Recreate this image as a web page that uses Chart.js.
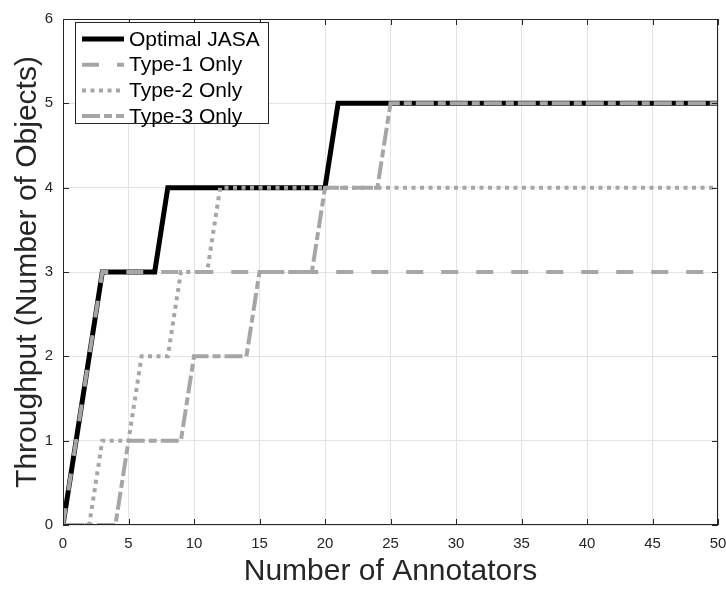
<!DOCTYPE html>
<html lang="en">
<head>
<meta charset="UTF-8">
<title>Throughput</title>
<script src="https://cdn.jsdelivr.net/npm/chart.js"></script>
<style>
    body { margin: 0; background: #fff; }
</style>
</head>
<body>
<canvas id="throughputChart" width="726" height="591"></canvas>

<script>
    // data
    var seriesNames = ['Optimal JASA', 'Type-1 Only', 'Type-2 Only', 'Type-3 Only'];
    var jasaX  = [0, 3, 7, 8, 20, 21, 50];
    var jasaY  = [0, 3, 3, 4, 4, 5, 5];
    var type1X = [0, 3, 50];
    var type1Y = [0, 3, 3];
    var type2X = [0, 2, 3, 5, 6, 8, 9, 11, 12, 50];
    var type2Y = [0, 0, 1, 1, 2, 2, 3, 3, 4, 4];
    var type3X = [0, 4, 5, 9, 10, 14, 15, 19, 20, 24, 25, 50];
    var type3Y = [0, 0, 1, 1, 2, 2, 3, 3, 4, 4, 5, 5];
    var xTicks = [0, 5, 10, 15, 20, 25, 30, 35, 40, 45, 50];
    var yTicks = [0, 1, 2, 3, 4, 5, 6];

    var FONT = '"Liberation Sans", Arial, Helvetica, sans-serif';
    var AXIS = '#262626';
    var GRAY = '#a6a6a6';

    function toPoints(xs, ys) {
        return xs.map(function(x, i) { return {x: x, y: ys[i]}; });
    }

    // box round the plot plus inward tick marks, like the original
    var framePlugin = {
        id: 'frame',
        afterDatasetsDraw: function(chart) {
            var ctx = chart.ctx, a = chart.chartArea;
            var xs = chart.scales.x, ys = chart.scales.y;
            ctx.save();
            ctx.strokeStyle = AXIS;
            ctx.lineWidth = 1;
            ctx.beginPath();
            ctx.moveTo(a.left, a.top + 0.5); ctx.lineTo(a.right, a.top + 0.5);
            ctx.moveTo(a.right - 0.5, a.top); ctx.lineTo(a.right - 0.5, a.bottom);
            ctx.moveTo(a.left + 0.5, a.top); ctx.lineTo(a.left + 0.5, a.bottom);
            ctx.moveTo(a.left, a.bottom - 0.5); ctx.lineTo(a.right, a.bottom - 0.5);
            xTicks.forEach(function(v) {
                var px = Math.round(xs.getPixelForValue(v)) + 0.5;
                ctx.moveTo(px, a.bottom); ctx.lineTo(px, a.bottom - 6);
                ctx.moveTo(px, a.top); ctx.lineTo(px, a.top + 6);
            });
            yTicks.forEach(function(v) {
                var py = Math.round(ys.getPixelForValue(v)) + 0.5;
                ctx.moveTo(a.left, py); ctx.lineTo(a.left + 6, py);
                ctx.moveTo(a.right, py); ctx.lineTo(a.right - 6, py);
            });
            ctx.stroke();
            ctx.restore();
        }
    };

    // legend box inside the plot, top left
    var boxLegend = {
        id: 'boxLegend',
        afterDraw: function(chart) {
            var ctx = chart.ctx;
            var bx = 75, by = 22, bw = 193, bh = 101;
            ctx.save();
            ctx.fillStyle = '#fff';
            ctx.fillRect(bx, by, bw, bh);
            ctx.strokeStyle = AXIS;
            ctx.lineWidth = 1;
            ctx.strokeRect(bx + 0.5, by + 0.5, bw, bh);
            ctx.font = '21px ' + FONT;
            ctx.textBaseline = 'middle';
            chart.data.datasets.forEach(function(ds, i) {
                var y = by + 17 + i * 25.7;
                ctx.beginPath();
                ctx.strokeStyle = ds.borderColor;
                ctx.lineWidth = ds.borderWidth;
                ctx.setLineDash(ds.borderDash || []);
                ctx.moveTo(82, y);
                ctx.lineTo(124, y);
                ctx.stroke();
                ctx.setLineDash([]);
                ctx.fillStyle = '#000';
                ctx.fillText(ds.label, 129, y + 1);
            });
            ctx.restore();
        }
    };

    var ctx = document.getElementById('throughputChart').getContext('2d');
    new Chart(ctx, {
        type: 'line',
        data: {
            datasets: [{
                label: seriesNames[0],
                data: toPoints(jasaX, jasaY),
                borderColor: '#000',
                borderWidth: 5,
                order: 2
            }, {
                label: seriesNames[1],
                data: toPoints(type1X, type1Y),
                borderColor: GRAY,
                borderWidth: 4,
                borderDash: [17, 18],
                order: 1
            }, {
                label: seriesNames[2],
                data: toPoints(type2X, type2Y),
                borderColor: GRAY,
                borderWidth: 4,
                borderDash: [4, 4.5],
                order: 1
            }, {
                label: seriesNames[3],
                data: toPoints(type3X, type3Y),
                borderColor: GRAY,
                borderWidth: 4,
                borderDash: [18, 4, 8, 4],
                order: 1
            }]
        },
        options: {
            responsive: false,
            animation: false,
            elements: {
                point: { radius: 0 },
                line: { tension: 0, fill: false }
            },
            layout: { padding: { top: 11, right: 8, left: 0, bottom: 0 } },
            plugins: {
                legend: { display: false },
                tooltip: { enabled: false }
            },
            scales: {
                x: {
                    type: 'linear',
                    min: 0,
                    max: 50,
                    afterFit: function(scale) {
                        scale.height = 66;
                        scale.paddingLeft = 0;
                        scale.paddingRight = 0;
                    },
                    afterBuildTicks: function(scale) {
                        scale.ticks = xTicks.map(function(v) { return {value: v}; });
                    },
                    grid: { color: '#e3e3e3', drawTicks: false },
                    border: { display: false },
                    ticks: { padding: 10, color: AXIS, font: { family: FONT, size: 15 }, maxRotation: 0 },
                    title: {
                        display: true,
                        text: 'Number of Annotators',
                        color: AXIS,
                        font: { family: FONT, size: 30 },
                        padding: { top: 0, bottom: 1 }
                    }
                },
                y: {
                    min: 0,
                    max: 6,
                    afterFit: function(scale) { scale.width = 63; },
                    afterBuildTicks: function(scale) {
                        scale.ticks = yTicks.map(function(v) { return {value: v}; });
                    },
                    grid: { color: '#e3e3e3', drawTicks: false },
                    border: { display: false },
                    ticks: { padding: 10, color: AXIS, font: { family: FONT, size: 15 } },
                    title: {
                        display: true,
                        text: 'Throughput (Number of Objects)',
                        color: AXIS,
                        font: { family: FONT, size: 30 },
                        padding: { top: 10, bottom: 0 }
                    }
                }
            }
        },
        plugins: [framePlugin, boxLegend]
    });
</script>
</body>
</html>
